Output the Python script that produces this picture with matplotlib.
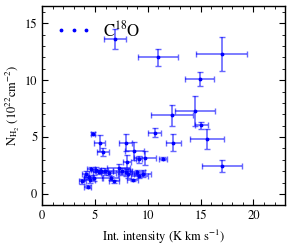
import matplotlib
matplotlib.use('Agg')
import matplotlib.pyplot as plt
from matplotlib.ticker import MultipleLocator

plt.rcParams['font.family'] = ['STIXGeneral', 'DejaVu Serif']
plt.rcParams['mathtext.fontset'] = 'stix'

# C18O: integrated intensity vs column density
x = [6.9, 11.0, 17.0, 14.9, 14.5, 12.3, 15.05, 15.6, 12.4, 10.65, 11.45, 17.05,
     4.8, 5.45, 5.75, 7.9, 8.7, 9.7, 9.15, 8.05,
     3.8, 4.1, 4.3, 4.5, 4.6, 4.9, 5.1, 5.4, 5.9, 6.3, 6.5, 6.8, 7.25, 7.6,
     7.9, 8.1, 8.55, 9.0, 9.2, 9.5, 4.4, 5.6]
y = [13.6, 12.0, 12.3, 10.1, 7.3, 6.9, 6.05, 4.85, 4.5, 5.4, 3.1, 2.45,
     5.3, 4.45, 3.65, 4.5, 3.8, 3.15, 3.05, 2.85,
     1.1, 1.75, 0.65, 1.2, 2.2, 1.4, 2.15, 1.95, 2.0, 1.85, 1.4, 1.1, 2.3, 2.0,
     1.9, 1.8, 1.25, 1.9, 1.6, 1.8, 1.5, 2.05]
xerr = [1.05, 1.9, 2.4, 1.35, 1.9, 2.0, 0.6, 1.65, 0.7, 0.6, 0.4, 1.9,
        0.2, 0.5, 0.55, 0.6, 0.9, 1.05, 0.3, 0.4,
        0.35, 0.3, 0.3, 0.5, 0.4, 0.9, 0.5, 0.6, 0.8, 0.7, 0.8, 0.5, 1.1, 0.9,
        0.6, 0.9, 0.5, 0.7, 0.8, 0.8, 0.4, 0.6]
yerr = [0.9, 0.75, 1.5, 0.65, 1.3, 0.95, 0.3, 0.9, 0.75, 0.4, 0.15, 0.5,
        0.15, 0.7, 0.35, 0.75, 0.8, 0.6, 0.3, 0.6,
        0.2, 0.25, 0.15, 0.2, 0.2, 0.25, 0.2, 0.2, 0.3, 0.2, 0.2, 0.15, 0.35, 0.3,
        0.3, 0.4, 0.1, 0.25, 0.2, 0.3, 0.2, 0.2]

fig, ax = plt.subplots(figsize=(2.91, 2.46), dpi=100)
fig.subplots_adjust(left=0.145, right=0.98, top=0.975, bottom=0.165)

ax.errorbar(x, y, xerr=xerr, yerr=yerr, fmt='none', ecolor='blue', alpha=0.6,
            elinewidth=1.2, capsize=2.5, capthick=1.0)
ax.plot(x, y, '.', color='blue', markersize=3.5, label='C$^{18}$O')

ax.set_xlim(0, 23)
ax.set_ylim(-1, 16.5)
ax.xaxis.set_major_locator(MultipleLocator(5))
ax.xaxis.set_minor_locator(MultipleLocator(1))
ax.yaxis.set_major_locator(MultipleLocator(5))
ax.yaxis.set_minor_locator(MultipleLocator(1))
ax.tick_params(which='both', direction='in', top=True, right=True, labelsize=9)
ax.tick_params(which='major', length=4)
ax.tick_params(which='minor', length=2)
for s in ax.spines.values():
    s.set_linewidth(1.0)

ax.set_xlabel('Int. intensity (K km s$^{-1}$)', fontsize=9)
ax.set_ylabel('N$_{\\rm H_2}$ (10$^{22}$cm$^{-2}$)', fontsize=9, labelpad=2)

ax.legend(loc='upper left', numpoints=3, frameon=False, fontsize=12,
          handlelength=2.1, handletextpad=0.7, borderaxespad=0.45)

fig.savefig('out.png', dpi=100)
